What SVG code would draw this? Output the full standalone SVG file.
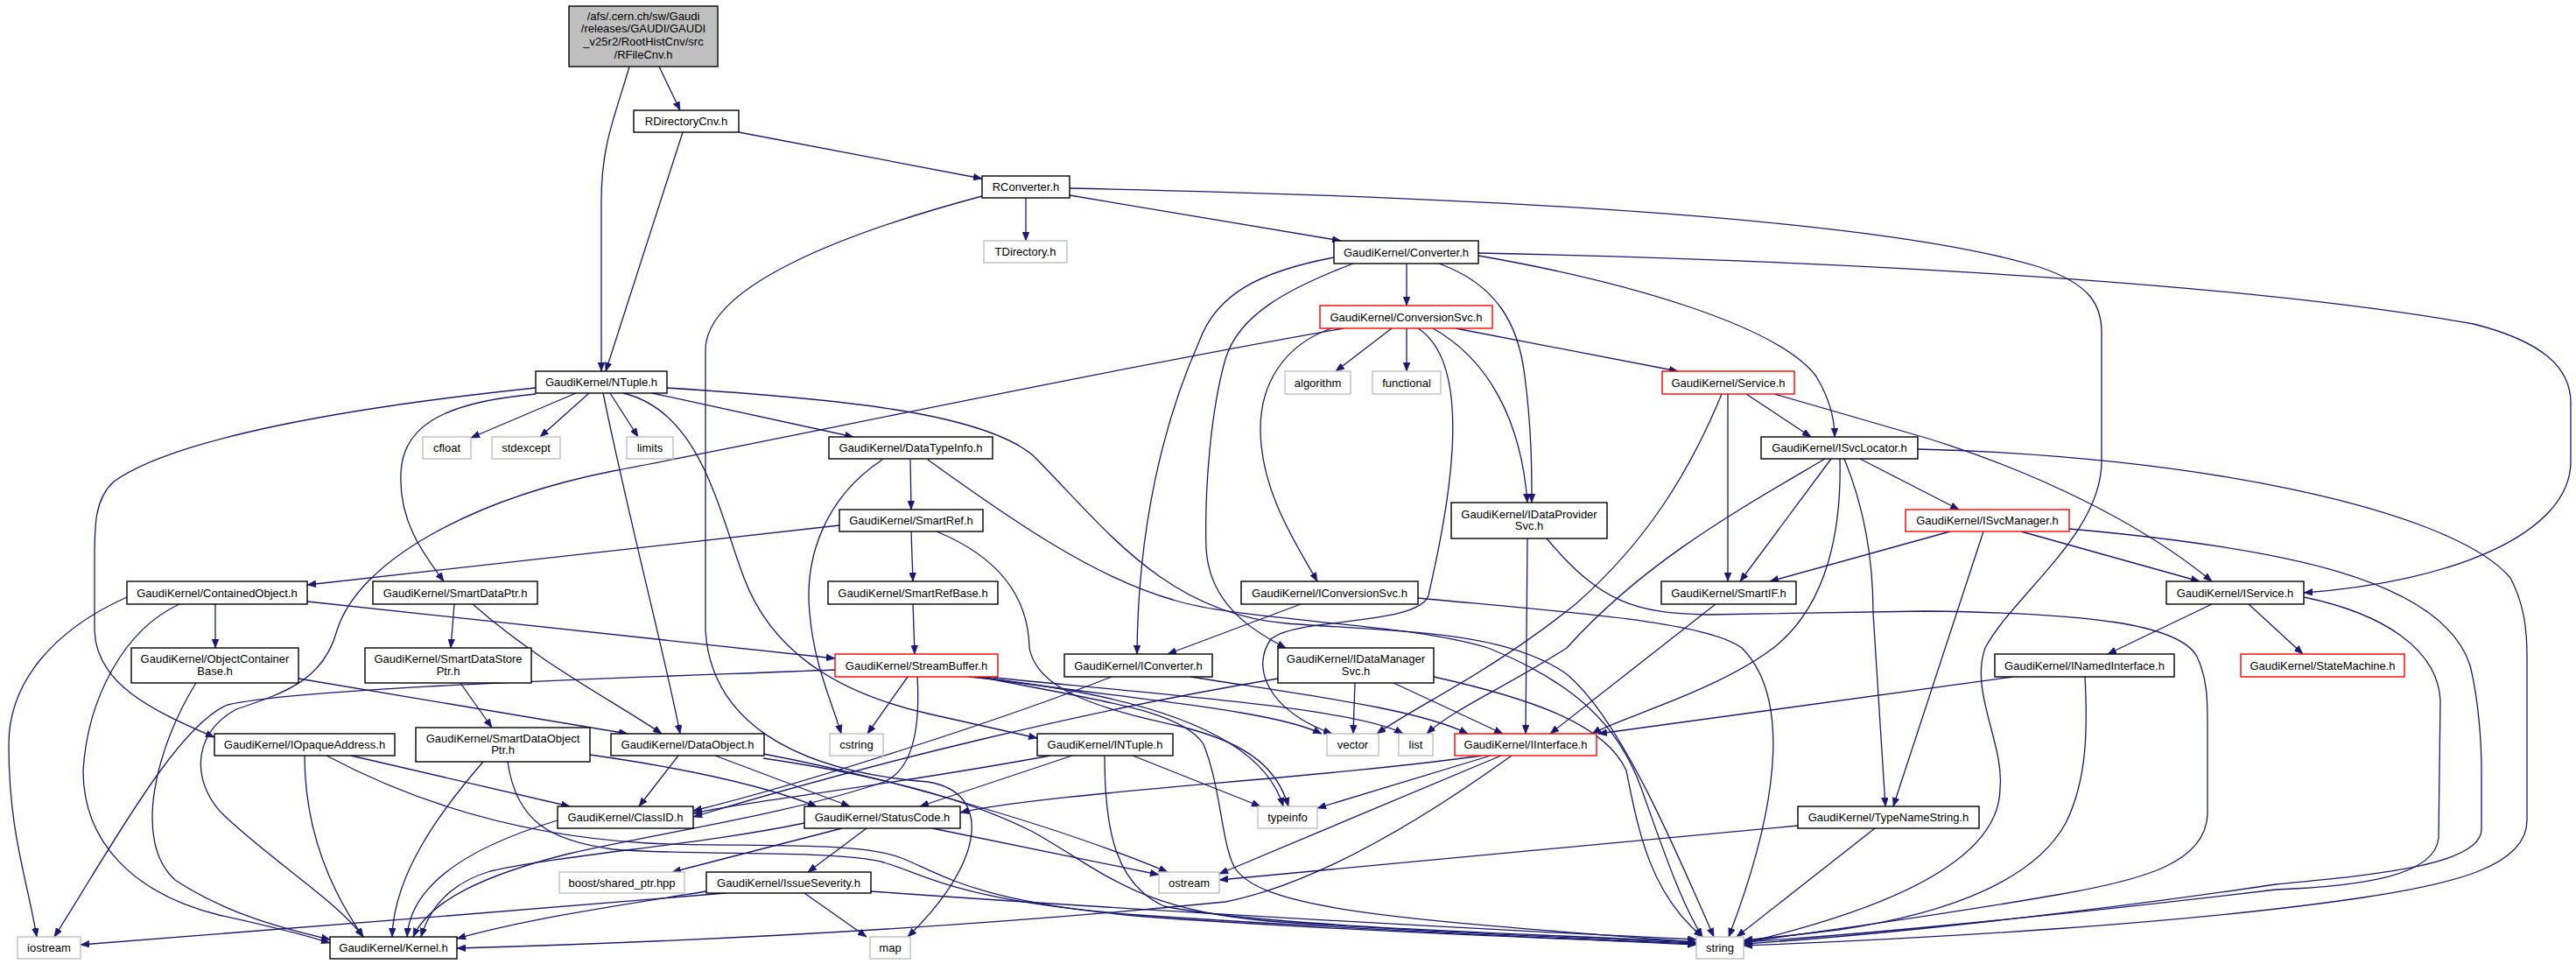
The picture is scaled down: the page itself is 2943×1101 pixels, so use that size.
<svg xmlns="http://www.w3.org/2000/svg" width="2943" height="1101" viewBox="0 0 2943 1101">
<style>
.e{fill:none;stroke:#191970;stroke-width:1.3;marker-end:url(#arr)}
.n{fill:#fff;stroke:#000;stroke-width:1.4}
.g{fill:#fff;stroke:#bfbfbf;stroke-width:1.4}
.r{fill:#fff;stroke:#ff0000;stroke-width:1.4}
.root{fill:#bfbfbf;stroke:#000;stroke-width:1.4}
text{font-family:"Liberation Sans",Arial,sans-serif;font-size:13px;text-anchor:middle;fill:#000}
</style>
<defs>
<marker id="arr" viewBox="0 0 10 8" refX="10" refY="4" markerWidth="10" markerHeight="8" markerUnits="userSpaceOnUse" orient="auto"><path d="M0,0L10,4L0,8z" fill="#191970" stroke="#191970" stroke-width="0.5"/></marker>
</defs>
<rect width="2943" height="1101" fill="#fff"/>
<g id="edges">
<path class="e" d="M753,76 L777,126"/>
<path class="e" d="M719,76 C702,135 687,165 687,230 L687,424"/>
<path class="e" d="M780,151 L692,424"/>
<path class="e" d="M844,151 L1122,204"/>
<path class="e" d="M1172,226 L1172,275"/>
<path class="e" d="M1222,223 L1532,275"/>
<path class="e" d="M1122,224 C950,270 806,330 806,400 L806,720 C812,820 900,880 1060,893 C1135,905 1125,985 1037,1070"/>
<path class="e" d="M1222,215 C1700,225 2150,250 2330,305 C2390,325 2401,350 2401,380 L2401,527 C2401,610 2300,680 2268,740 C2250,790 2290,850 2285,900 C2285,985 2150,1040 1992,1077"/>
<path class="e" d="M1607,301 L1607,349"/>
<path class="e" d="M1524,294 C1440,310 1390,335 1370,390 C1330,480 1300,600 1299,747"/>
<path class="e" d="M1546,301 C1470,330 1415,360 1400,410 C1383,470 1376,560 1378,627 C1382,690 1430,720 1469,740"/>
<path class="e" d="M1644,301 C1710,325 1735,370 1742,430 C1750,490 1750,540 1750,574"/>
<path class="e" d="M1689,292 C1850,320 2030,370 2075,430 C2090,455 2096,480 2096,499"/>
<path class="e" d="M1689,289 C2200,300 2600,330 2826,370 C2905,390 2937,420 2937,460 L2937,527 C2937,610 2800,665 2632,677"/>
<path class="e" d="M1521,375 C1465,395 1440,440 1440,490 C1440,560 1480,620 1505,664"/>
<path class="e" d="M1535,375 C1250,425 900,500 700,538 C540,570 410,640 385,720 C370,775 330,790 270,810 C215,840 220,900 260,935 C320,990 385,1030 415,1070"/>
<path class="e" d="M1590,375 L1526,424"/>
<path class="e" d="M1607,375 L1607,424"/>
<path class="e" d="M1620,375 C1690,420 1650,600 1632,680 C1620,715 1480,705 1452,730 C1430,760 1445,810 1522,838"/>
<path class="e" d="M1637,375 C1700,410 1738,480 1745,574"/>
<path class="e" d="M1663,375 L1917,424"/>
<path class="e" d="M1974,450 L1974,664"/>
<path class="e" d="M1995,450 L2069,499"/>
<path class="e" d="M1967,450 C1930,540 1880,620 1800,690 C1700,770 1620,805 1573,838"/>
<path class="e" d="M2027,450 L2200,500 C2330,540 2450,600 2527,664"/>
<path class="e" d="M2085,524 C1990,580 1880,640 1790,740 C1720,785 1660,810 1630,838"/>
<path class="e" d="M2092,524 L1988,664"/>
<path class="e" d="M2102,524 C2104,600 2090,690 2026,740 C1960,790 1850,820 1819,838"/>
<path class="e" d="M2107,524 C2130,580 2140,640 2140,700 L2154,921"/>
<path class="e" d="M2125,524 L2238,582"/>
<path class="e" d="M2191,513 C2500,520 2800,580 2868,660 C2884,690 2887,720 2887,750 L2887,937 C2887,990 2800,1010 2700,1025 C2500,1055 2200,1072 1992,1080"/>
<path class="e" d="M2228,607 L2022,664"/>
<path class="e" d="M2266,607 L2163,921"/>
<path class="e" d="M2309,607 L2513,664"/>
<path class="e" d="M2364,604 C2600,625 2790,660 2822,760 C2832,800 2835,850 2835,880 L2835,947 C2835,990 2700,1000 2600,1010 C2400,1040 2150,1068 1992,1078"/>
<path class="e" d="M2527,690 L2408,747"/>
<path class="e" d="M2569,690 L2631,747"/>
<path class="e" d="M2632,682 C2720,700 2785,740 2788,800 L2786,957 C2782,1000 2700,1012 2600,1016 C2400,1040 2150,1066 1992,1076"/>
<path class="e" d="M2300,773 L1826,838"/>
<path class="e" d="M2382,773 C2385,830 2385,890 2360,940 C2330,995 2250,1040 2100,1062 C2050,1068 2010,1072 1992,1074"/>
<path class="e" d="M1745,615 L1743,838"/>
<path class="e" d="M1767,615 C1830,690 1870,700 1950,702 L2200,698 C2380,700 2490,712 2510,750 C2522,775 2522,800 2522,830 L2522,930 C2520,985 2450,1005 2350,1022 C2200,1048 2050,1068 1992,1076"/>
<path class="e" d="M1960,690 L1771,838"/>
<path class="e" d="M1486,690 L1334,747"/>
<path class="e" d="M1619,683 C1800,700 1950,710 1990,740 C2040,790 2040,900 1975,1070"/>
<path class="e" d="M1548,780 L1546,838"/>
<path class="e" d="M1592,780 L1717,838"/>
<path class="e" d="M1638,773 C1760,800 1835,830 1858,880 C1872,950 1885,1020 1945,1070"/>
<path class="e" d="M1460,775 C1250,810 1000,870 792,933"/>
<path class="e" d="M1270,773 C1150,820 920,895 792,926"/>
<path class="e" d="M1360,773 C1500,795 1620,810 1677,838"/>
<path class="e" d="M1693,863 C1500,890 1200,905 1097,928"/>
<path class="e" d="M1703,863 L1505,923"/>
<path class="e" d="M1715,863 L1393,998"/>
<path class="e" d="M1727,863 C1620,940 1500,1010 1400,1030 C1100,1060 800,1075 522,1083"/>
<path class="e" d="M954,765 C700,775 350,785 260,805 C200,830 120,980 62,1070"/>
<path class="e" d="M1037,773 L991,838"/>
<path class="e" d="M1048,773 C1052,840 1040,880 1010,893 C900,930 760,950 650,975 C550,1000 490,1030 472,1070"/>
<path class="e" d="M1107,773 C1280,790 1440,830 1466,921"/>
<path class="e" d="M1115,773 C1300,800 1450,810 1510,838"/>
<path class="e" d="M1125,773 C1350,795 1550,810 1603,838"/>
<path class="e" d="M1120,773 C1250,800 1350,810 1375,850 C1395,900 1395,960 1410,990 C1440,1040 1600,1050 1938,1076"/>
<path class="e" d="M1200,863 C1000,900 850,915 792,929"/>
<path class="e" d="M1225,863 L1051,921"/>
<path class="e" d="M1262,863 C1262,950 1275,1010 1330,1035 C1450,1060 1800,1068 1938,1076"/>
<path class="e" d="M1294,863 L1440,921"/>
<path class="e" d="M637,937 C560,960 470,1000 465,1070"/>
<path class="e" d="M919,940 C800,965 650,975 560,995 C510,1010 490,1040 481,1070"/>
<path class="e" d="M962,946 L768,996"/>
<path class="e" d="M990,946 L923,996"/>
<path class="e" d="M1065,946 L1324,999"/>
<path class="e" d="M919,1020 L990,1070"/>
<path class="e" d="M829,1020 C600,1040 300,1062 92,1079"/>
<path class="e" d="M807,1018 C700,1035 600,1050 522,1072"/>
<path class="e" d="M995,1018 C1300,1040 1700,1062 1938,1073"/>
<path class="e" d="M775,863 L730,921"/>
<path class="e" d="M817,863 L971,921"/>
<path class="e" d="M872,861 C1000,885 1200,940 1334,996"/>
<path class="e" d="M872,866 C1000,885 1100,910 1180,950 C1260,995 1300,1040 1450,1052 C1650,1066 1850,1073 1938,1077"/>
<path class="e" d="M341,775 L717,838"/>
<path class="e" d="M224,780 C180,850 150,960 200,1005 C260,1045 330,1062 377,1073"/>
<path class="e" d="M145,682 C60,720 10,780 10,850 C10,950 30,1000 42,1070"/>
<path class="e" d="M205,690 C140,720 100,800 95,880 C95,960 150,1020 250,1045 C300,1056 340,1065 377,1077"/>
<path class="e" d="M246,690 L246,740"/>
<path class="e" d="M351,687 L954,752"/>
<path class="e" d="M519,690 L515,740"/>
<path class="e" d="M540,690 C620,760 700,800 756,838"/>
<path class="e" d="M526,780 L562,831"/>
<path class="e" d="M552,870 C500,930 450,1000 448,1070"/>
<path class="e" d="M580,870 C590,940 630,960 700,970 C800,978 950,970 1010,985 C1060,1000 1100,1030 1300,1045 C1600,1065 1800,1072 1938,1079"/>
<path class="e" d="M674,862 C800,880 880,900 933,921"/>
<path class="e" d="M348,863 C348,950 380,1020 415,1070"/>
<path class="e" d="M401,863 L651,921"/>
<path class="e" d="M373,863 C480,920 600,955 740,963 C850,968 980,960 1030,980 C1080,1000 1120,1035 1350,1050 C1600,1066 1800,1073 1938,1078"/>
<path class="e" d="M612,443 C400,465 200,500 130,550 C108,570 108,600 108,640 L108,720 C110,780 170,810 245,842"/>
<path class="e" d="M612,450 C500,460 460,490 458,540 C455,600 490,640 507,664"/>
<path class="e" d="M658,449 L538,500"/>
<path class="e" d="M673,449 L617,499"/>
<path class="e" d="M697,449 L729,499"/>
<path class="e" d="M689,449 C720,600 760,750 777,838"/>
<path class="e" d="M712,449 C800,470 820,580 850,660 C880,740 950,790 1060,815 C1110,826 1150,835 1185,843"/>
<path class="e" d="M762,443 C950,455 1120,470 1180,520 C1260,600 1330,700 1470,712 C1600,722 1720,720 1790,770 C1850,820 1910,960 1958,1070"/>
<path class="e" d="M745,449 L975,499"/>
<path class="e" d="M1008,525 C940,570 919,640 925,700 C930,760 950,800 961,838"/>
<path class="e" d="M1040,525 L1041,582"/>
<path class="e" d="M1060,525 C1150,590 1250,660 1340,685 C1420,710 1600,710 1700,740 C1800,780 1850,830 1875,900 C1900,970 1920,1030 1945,1070"/>
<path class="e" d="M959,600 L351,668"/>
<path class="e" d="M1041,607 L1043,664"/>
<path class="e" d="M1070,607 C1150,640 1175,690 1176,740 C1185,790 1260,810 1350,830 C1430,850 1460,880 1472,921"/>
<path class="e" d="M1043,690 L1045,747"/>
<path class="e" d="M2054,943 L1393,1005"/>
<path class="e" d="M2142,946 L1984,1070"/>
</g>
<g id="n-root"><rect class="root" x="650" y="7" width="170" height="69"/><text x="735" y="22.8">/afs/.cern.ch/sw/Gaudi</text><text x="735" y="37.2">/releases/GAUDI/GAUDI</text><text x="735" y="52.2">_v25r2/RootHistCnv/src</text><text x="735" y="66.8">/RFileCnv.h</text></g>
<g id="n-RDirectoryCnv"><rect class="n" x="724" y="126" width="120" height="25"/><text x="784" y="143">RDirectoryCnv.h</text></g>
<g id="n-RConverter"><rect class="n" x="1122" y="201" width="100" height="25"/><text x="1172" y="218">RConverter.h</text></g>
<g id="n-TDirectory"><rect class="g" x="1124" y="275" width="95" height="25"/><text x="1171.5" y="292">TDirectory.h</text></g>
<g id="n-Converter"><rect class="n" x="1524" y="275" width="165" height="26"/><text x="1606.5" y="292.5">GaudiKernel/Converter.h</text></g>
<g id="n-ConversionSvc"><rect class="r" x="1508" y="349" width="197" height="26"/><text x="1606.5" y="366.5">GaudiKernel/ConversionSvc.h</text></g>
<g id="n-NTuple"><rect class="n" x="612" y="424" width="150" height="25"/><text x="687" y="441">GaudiKernel/NTuple.h</text></g>
<g id="n-cfloat"><rect class="g" x="483" y="499" width="55" height="25"/><text x="510.5" y="516">cfloat</text></g>
<g id="n-stdexcept"><rect class="g" x="562" y="499" width="78" height="25"/><text x="601" y="516">stdexcept</text></g>
<g id="n-limits"><rect class="g" x="716" y="499" width="53" height="25"/><text x="742.5" y="516">limits</text></g>
<g id="n-DataTypeInfo"><rect class="n" x="947" y="499" width="187" height="25"/><text x="1040.5" y="516">GaudiKernel/DataTypeInfo.h</text></g>
<g id="n-SmartRef"><rect class="n" x="959" y="582" width="164" height="25"/><text x="1041" y="599">GaudiKernel/SmartRef.h</text></g>
<g id="n-SmartRefBase"><rect class="n" x="946" y="664" width="194" height="26"/><text x="1043" y="681.5">GaudiKernel/SmartRefBase.h</text></g>
<g id="n-ContainedObject"><rect class="n" x="145" y="664" width="206" height="26"/><text x="248" y="681.5">GaudiKernel/ContainedObject.h</text></g>
<g id="n-SmartDataPtr"><rect class="n" x="426" y="664" width="188" height="26"/><text x="520" y="681.5">GaudiKernel/SmartDataPtr.h</text></g>
<g id="n-ObjectContainerBase"><rect class="n" x="150" y="740" width="191" height="40"/><text x="245.5" y="757">GaudiKernel/ObjectContainer</text><text x="245.5" y="770.5">Base.h</text></g>
<g id="n-SmartDataStorePtr"><rect class="n" x="417" y="740" width="190" height="40"/><text x="512" y="757">GaudiKernel/SmartDataStore</text><text x="512" y="770.5">Ptr.h</text></g>
<g id="n-IOpaqueAddress"><rect class="n" x="245" y="838" width="206" height="25"/><text x="348" y="855">GaudiKernel/IOpaqueAddress.h</text></g>
<g id="n-SmartDataObjectPtr"><rect class="n" x="475" y="831" width="199" height="39"/><text x="574.5" y="847.5">GaudiKernel/SmartDataObject</text><text x="574.5" y="861">Ptr.h</text></g>
<g id="n-DataObject"><rect class="n" x="698" y="838" width="175" height="25"/><text x="785.5" y="855">GaudiKernel/DataObject.h</text></g>
<g id="n-StreamBuffer"><rect class="r" x="954" y="747" width="186" height="26"/><text x="1047" y="764.5">GaudiKernel/StreamBuffer.h</text></g>
<g id="n-cstring"><rect class="g" x="948" y="838" width="61" height="25"/><text x="978.5" y="855">cstring</text></g>
<g id="n-IConverter"><rect class="n" x="1216" y="747" width="169" height="26"/><text x="1300.5" y="764.5">GaudiKernel/IConverter.h</text></g>
<g id="n-INTuple"><rect class="n" x="1185" y="838" width="155" height="25"/><text x="1262.5" y="855">GaudiKernel/INTuple.h</text></g>
<g id="n-ClassID"><rect class="n" x="637" y="921" width="155" height="25"/><text x="714.5" y="938">GaudiKernel/ClassID.h</text></g>
<g id="n-StatusCode"><rect class="n" x="919" y="921" width="178" height="25"/><text x="1008" y="938">GaudiKernel/StatusCode.h</text></g>
<g id="n-boost"><rect class="g" x="639" y="996" width="143" height="24"/><text x="710.5" y="1012.5">boost/shared_ptr.hpp</text></g>
<g id="n-IssueSeverity"><rect class="n" x="807" y="996" width="188" height="24"/><text x="901" y="1012.5">GaudiKernel/IssueSeverity.h</text></g>
<g id="n-map"><rect class="g" x="994" y="1070" width="46" height="25"/><text x="1017" y="1087">map</text></g>
<g id="n-ostream"><rect class="g" x="1324" y="996" width="69" height="24"/><text x="1358.5" y="1012.5">ostream</text></g>
<g id="n-typeinfo"><rect class="g" x="1437" y="921" width="68" height="25"/><text x="1471" y="938">typeinfo</text></g>
<g id="n-iostream"><rect class="g" x="20" y="1070" width="72" height="25"/><text x="56" y="1087">iostream</text></g>
<g id="n-Kernel"><rect class="n" x="377" y="1070" width="145" height="25"/><text x="449.5" y="1087">GaudiKernel/Kernel.h</text></g>
<g id="n-IDataManagerSvc"><rect class="n" x="1460" y="740" width="178" height="40"/><text x="1549" y="757">GaudiKernel/IDataManager</text><text x="1549" y="770.5">Svc.h</text></g>
<g id="n-vector"><rect class="g" x="1516" y="838" width="59" height="25"/><text x="1545.5" y="855">vector</text></g>
<g id="n-list"><rect class="g" x="1598" y="838" width="39" height="25"/><text x="1617.5" y="855">list</text></g>
<g id="n-IInterface"><rect class="r" x="1662" y="838" width="162" height="25"/><text x="1743" y="855">GaudiKernel/IInterface.h</text></g>
<g id="n-TypeNameString"><rect class="n" x="2054" y="921" width="207" height="25"/><text x="2157.5" y="938">GaudiKernel/TypeNameString.h</text></g>
<g id="n-string"><rect class="g" x="1938" y="1070" width="54" height="25"/><text x="1965" y="1087">string</text></g>
<g id="n-INamedInterface"><rect class="n" x="2279" y="747" width="205" height="26"/><text x="2381.5" y="764.5">GaudiKernel/INamedInterface.h</text></g>
<g id="n-StateMachine"><rect class="r" x="2560" y="747" width="187" height="26"/><text x="2653.5" y="764.5">GaudiKernel/StateMachine.h</text></g>
<g id="n-IService"><rect class="n" x="2475" y="664" width="157" height="26"/><text x="2553.5" y="681.5">GaudiKernel/IService.h</text></g>
<g id="n-ISvcManager"><rect class="r" x="2177" y="582" width="187" height="25"/><text x="2270.5" y="599">GaudiKernel/ISvcManager.h</text></g>
<g id="n-ISvcLocator"><rect class="n" x="2012" y="499" width="179" height="25"/><text x="2101.5" y="516">GaudiKernel/ISvcLocator.h</text></g>
<g id="n-Service"><rect class="r" x="1899" y="424" width="151" height="26"/><text x="1974.5" y="441.5">GaudiKernel/Service.h</text></g>
<g id="n-algorithm"><rect class="g" x="1468" y="424" width="75" height="26"/><text x="1505.5" y="441.5">algorithm</text></g>
<g id="n-functional"><rect class="g" x="1568" y="424" width="78" height="26"/><text x="1607" y="441.5">functional</text></g>
<g id="n-IDataProviderSvc"><rect class="n" x="1658" y="574" width="178" height="41"/><text x="1747" y="591.5">GaudiKernel/IDataProvider</text><text x="1747" y="605">Svc.h</text></g>
<g id="n-IConversionSvc"><rect class="n" x="1418" y="664" width="202" height="26"/><text x="1519" y="681.5">GaudiKernel/IConversionSvc.h</text></g>
<g id="n-SmartIF"><rect class="n" x="1898" y="664" width="154" height="26"/><text x="1975" y="681.5">GaudiKernel/SmartIF.h</text></g>
</svg>
